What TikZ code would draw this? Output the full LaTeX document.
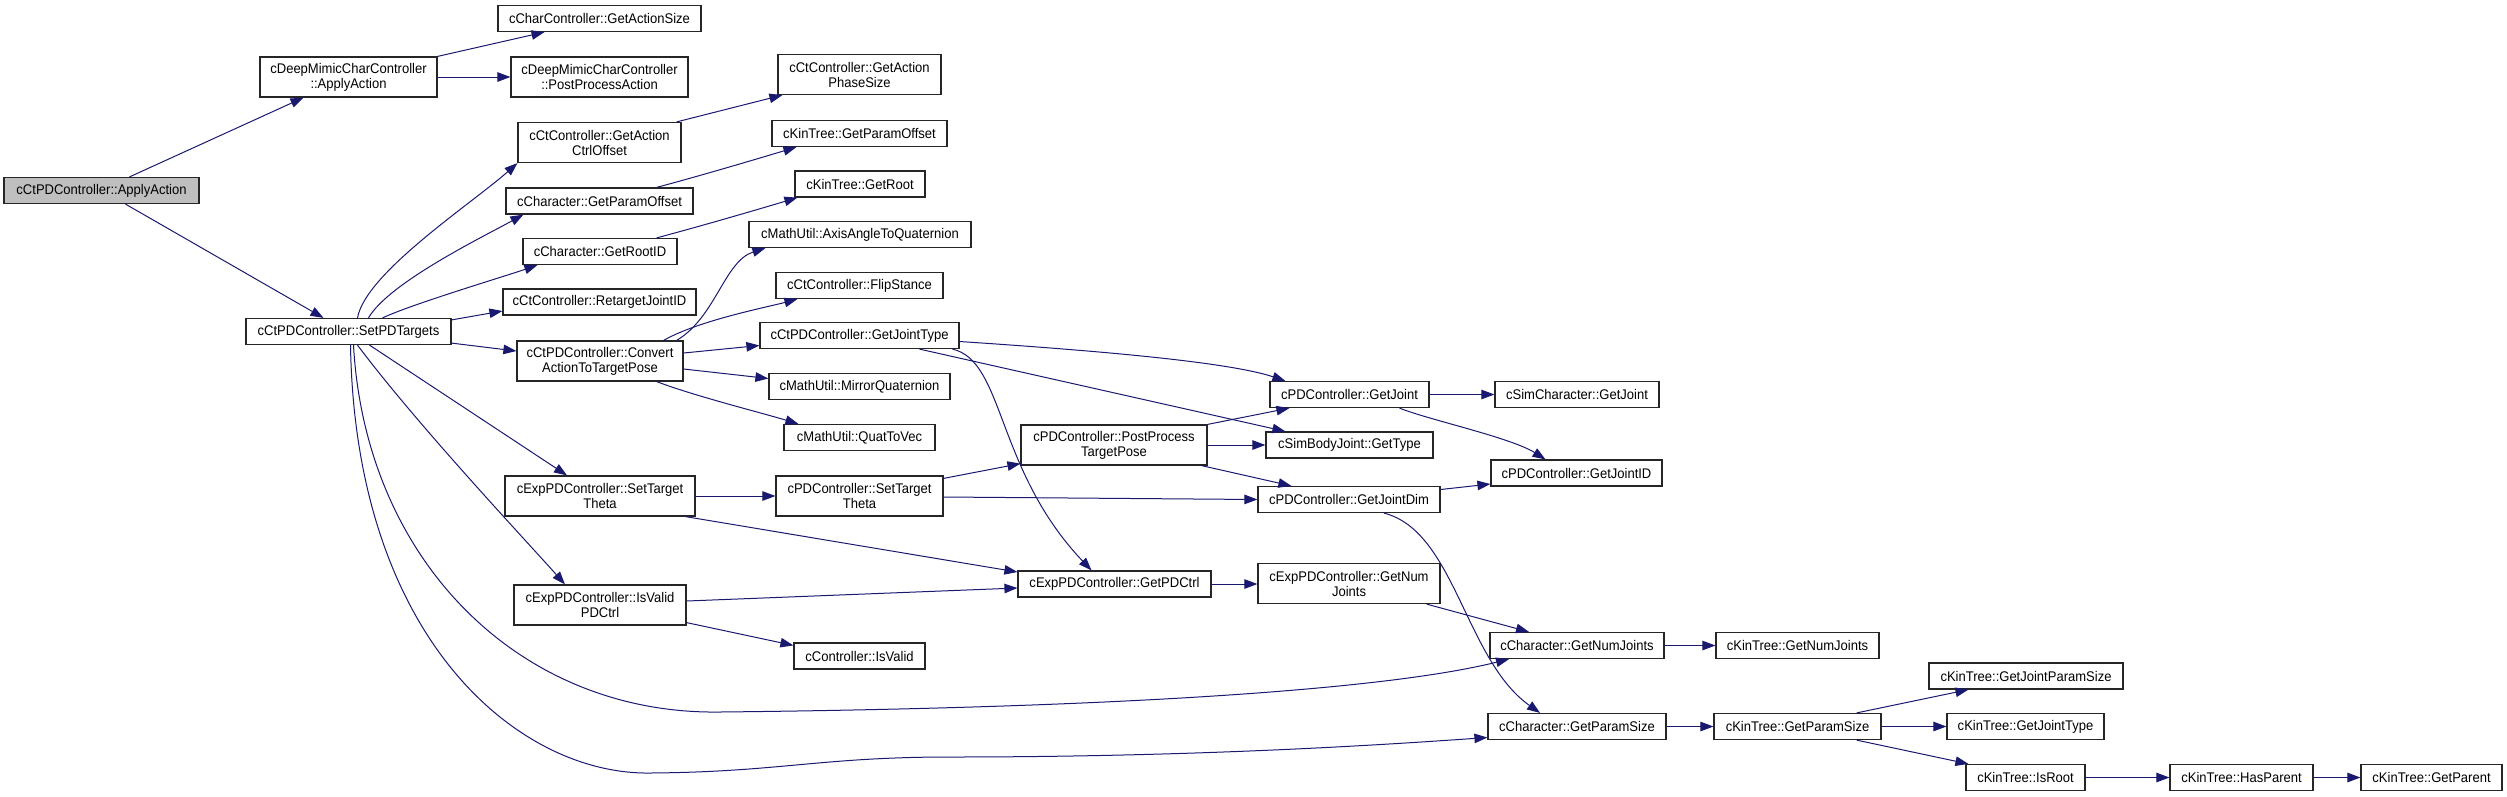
\documentclass[tikz,border=0pt]{standalone}
\usepackage{fontspec}
\setmainfont{Liberation Sans}[FakeStretch=0.93]
\usetikzlibrary{arrows.meta}
\definecolor{edgeblue}{HTML}{191970}
\definecolor{rootgray}{HTML}{BFBFBF}

\begin{document}
\begin{tikzpicture}[x=1pt, y=-1pt,
    fn/.style={draw=black!85, line width=1.2pt, inner sep=0pt, minimum height=26pt, align=center, font=\fontsize{14}{15}\selectfont},
    fn2/.style={fn, minimum height=40pt},
    call/.style={-{Triangle[length=13pt, width=9.5pt]}, draw=edgeblue, line width=1pt}
]
\useasboundingbox (0,0) rectangle (2507,796);

% Root
\node (root) at (101.5,190.5) [fn, fill=rootgray, minimum width=195pt] {cCtPDController::ApplyAction};

% Level 1
\node (dmApply) at (348.5,77) [fn2, minimum width=177pt] {cDeepMimicCharController\\::ApplyAction};
\node (setPD) at (348.5,331.5) [fn, minimum width=205pt] {cCtPDController::SetPDTargets};

% Level 2
\node (getActSize) at (599.5,18.5) [fn, minimum width=203pt] {cCharController::GetActionSize};
\node (postProc) at (599.5,77) [fn2, minimum width=177pt] {cDeepMimicCharController\\::PostProcessAction};
\node (ctrlOff) at (599.5,142.5) [fn2, minimum width=163pt] {cCtController::GetAction\\CtrlOffset};
\node (chParamOff) at (599.5,201) [fn, minimum width=187pt] {cCharacter::GetParamOffset};
\node (chRootID) at (600,251.5) [fn, minimum width=154pt] {cCharacter::GetRootID};
\node (retarget) at (599.5,302) [fn, minimum width=193pt] {cCtController::RetargetJointID};
\node (convert) at (600,361) [fn2, minimum width=166pt] {cCtPDController::Convert\\ActionToTargetPose};
\node (expSetTheta) at (600,496) [fn2, minimum width=190pt] {cExpPDController::SetTarget\\Theta};
\node (isValidPD) at (600,605) [fn2, minimum width=172pt] {cExpPDController::IsValid\\PDCtrl};

% Level 3
\node (phaseSize) at (859.5,74.5) [fn2, minimum width=163pt] {cCtController::GetAction\\PhaseSize};
\node (ktParamOff) at (859.5,133.5) [fn, minimum width=175pt] {cKinTree::GetParamOffset};
\node (ktRoot) at (860,184) [fn, minimum width=130pt] {cKinTree::GetRoot};
\node (axisAngle) at (860,234.5) [fn, minimum width=222pt] {cMathUtil::AxisAngleToQuaternion};
\node (flip) at (859.5,285.5) [fn, minimum width=167pt] {cCtController::FlipStance};
\node (ctpdJointType) at (859.5,335.5) [fn, minimum width=199pt] {cCtPDController::GetJointType};
\node (mirror) at (859.5,386.5) [fn, minimum width=181pt] {cMathUtil::MirrorQuaternion};
\node (quatToVec) at (859.5,437.5) [fn, minimum width=151pt] {cMathUtil::QuatToVec};
\node (pdSetTheta) at (859.5,496) [fn2, minimum width=167pt] {cPDController::SetTarget\\Theta};
\node (isValid) at (859.5,656) [fn, minimum width=131pt] {cController::IsValid};

% Level 4
\node (postTarget) at (1114,445) [fn2, minimum width=186pt] {cPDController::PostProcess\\TargetPose};
\node (getPDCtrl) at (1114.5,584) [fn, minimum width=193pt] {cExpPDController::GetPDCtrl};

% Level 5
\node (pdGetJoint) at (1349.5,394.5) [fn, minimum width=159pt] {cPDController::GetJoint};
\node (simBodyType) at (1349.5,445) [fn, minimum width=167pt] {cSimBodyJoint::GetType};
\node (jointDim) at (1349,499.5) [fn, minimum width=182pt] {cPDController::GetJointDim};
\node (expNumJoints) at (1349,583.5) [fn2, minimum width=182pt] {cExpPDController::GetNum\\Joints};

% Level 6
\node (simGetJoint) at (1577,394.5) [fn, minimum width=164pt] {cSimCharacter::GetJoint};
\node (jointID) at (1576.5,473) [fn, minimum width=171pt] {cPDController::GetJointID};
\node (chNumJoints) at (1577,645.5) [fn, minimum width=174pt] {cCharacter::GetNumJoints};
\node (chParamSize) at (1577,726.5) [fn, minimum width=178pt] {cCharacter::GetParamSize};

% Level 7 and beyond
\node (ktNumJoints) at (1797.5,645.5) [fn, minimum width=163pt] {cKinTree::GetNumJoints};
\node (ktParamSize) at (1797.5,726.5) [fn, minimum width=167pt] {cKinTree::GetParamSize};
\node (ktJointParamSize) at (2026,676) [fn, minimum width=194pt] {cKinTree::GetJointParamSize};
\node (ktJointType) at (2025.5,726.5) [fn, minimum width=157pt] {cKinTree::GetJointType};
\node (isRoot) at (2025.5,777.5) [fn, minimum width=119pt] {cKinTree::IsRoot};
\node (hasParent) at (2241.5,777.5) [fn, minimum width=143pt] {cKinTree::HasParent};
\node (getParent) at (2431.5,777.5) [fn, minimum width=141pt] {cKinTree::GetParent};

% Calls from the root
\draw[call] ([xshift=28pt]root.north) -- ([xshift=-45pt]dmApply.south);
\draw[call] ([xshift=24pt]root.south) -- ([xshift=-25pt]setPD.north);

% Calls from ApplyAction
\draw[call] (dmApply.north east) -- ([xshift=-55pt]getActSize.south);
\draw[call] (dmApply) -- (postProc);

% Calls from SetPDTargets
\draw[call] ([xshift=9pt]setPD.north) .. controls +(8,-45) and +(-45,40) .. (ctrlOff.south west);
\draw[call] ([xshift=20pt]setPD.north) .. controls +(20,-35) and +(-40,22) .. ([xshift=18pt]chParamOff.south west);
\draw[call] ([xshift=34pt]setPD.north) .. controls +(30,-14) and +(-35,12) .. ([xshift=15pt]chRootID.south west);
\draw[call] ([yshift=-2pt]setPD.north east) -- ([yshift=-9pt]retarget.west);
\draw[call] ([yshift=2pt]setPD.south east) -- ([yshift=10pt]convert.west);
\draw[call] ([xshift=21pt]setPD.south) -- ([xshift=-33pt]expSetTheta.north);
\draw[call] ([xshift=9pt]setPD.south) .. controls +(60,80) and +(-40,-45) .. ([xshift=-35pt]isValidPD.north);
\draw[call] ([xshift=5pt]setPD.south) .. controls +(12,216) and +(-200,3) .. (720,712)
    .. controls +(380,-4) and +(-129,32) .. ([xshift=-68pt]chNumJoints.south);
\draw[call] ([xshift=2pt]setPD.south) .. controls +(5,296) and +(-130,2) .. (650,773)
    .. controls +(130,-1) and +(-130,0) .. (950,757)
    .. controls +(250,0) and +(-100,7) .. ([yshift=-11pt]chParamSize.west);

% Second level calls
\draw[call] ([xshift=-5pt]ctrlOff.north east) -- ([xshift=5pt]phaseSize.south west);
\draw[call] ([xshift=-37pt]chParamOff.north east) .. controls +(45,-12) and +(-40,12) .. ([xshift=25pt]ktParamOff.south west);
\draw[call] ([xshift=-21pt]chRootID.north east) .. controls +(45,-12) and +(-40,12) .. ([xshift=3pt]ktRoot.south west);
\draw[call] ([xshift=-7pt]convert.north east) .. controls +(39,-23) and +(-41,13) .. ([xshift=17pt]axisAngle.south west);
\draw[call] ([xshift=-20pt]convert.north east) .. controls +(35,-20) and +(-30,8) .. ([xshift=22pt]flip.south west);
\draw[call] ([yshift=8pt]convert.east) -- ([yshift=-10pt]ctpdJointType.west);
\draw[call] ([yshift=-8pt]convert.east) -- ([yshift=8pt]mirror.west);
\draw[call] ([xshift=-27pt]convert.south east) .. controls +(40,15) and +(-40,-12) .. ([xshift=15pt]quatToVec.north west);
\draw[call] (expSetTheta) -- (pdSetTheta);
\draw[call] ([xshift=-10pt]expSetTheta.south east) -- ([yshift=12pt]getPDCtrl.west);
\draw[call] ([yshift=4pt]isValidPD.east) -- ([yshift=-4pt]getPDCtrl.west);
\draw[call] ([yshift=3pt]isValidPD.south east) -- ([yshift=-3pt]isValid.north west);

% Third level calls
\draw[call] ([yshift=-6pt]ctpdJointType.east) .. controls +(120,8) and +(-60,-20) .. ([xshift=16pt]pdGetJoint.north west);
\draw[call] ([xshift=60pt]ctpdJointType.south) -- ([xshift=20pt]simBodyType.north west);
\draw[call] ([xshift=93pt]ctpdJointType.south) .. controls +(52,12) and +(-96,-101) .. ([xshift=-23pt]getPDCtrl.north);
\draw[call] ([yshift=-3pt]pdSetTheta.north east) -- ([yshift=2pt]postTarget.south west);
\draw[call] ([yshift=-1pt]pdSetTheta.east) -- (jointDim.west);

% Fourth level calls
\draw[call] (postTarget.north east) -- ([xshift=20pt]pdGetJoint.south west);
\draw[call] (postTarget) -- (simBodyType);
\draw[call] ([xshift=-6pt]postTarget.south east) -- ([xshift=34pt]jointDim.north west);
\draw[call] (getPDCtrl.east) -- (getPDCtrl.east -| expNumJoints.west);

% Fifth level calls
\draw[call] (pdGetJoint) -- (simGetJoint);
\draw[call] ([xshift=50pt]pdGetJoint.south) .. controls +(30,12) and +(-35,-22) .. ([xshift=-31pt]jointID.north);
\draw[call] ([yshift=10pt]jointDim.east) -- ([yshift=-11pt]jointID.west);
\draw[call] ([xshift=35pt]jointDim.south) .. controls +(71,18) and +(-75,-53) .. ([xshift=-37pt]chParamSize.north);
\draw[call] ([xshift=-14pt]expNumJoints.south east) -- ([xshift=-48pt]chNumJoints.north);

% KinTree calls
\draw[call] (chNumJoints) -- (ktNumJoints);
\draw[call] (chParamSize) -- (ktParamSize);
\draw[call] ([xshift=-25pt]ktParamSize.north east) -- ([xshift=40pt]ktJointParamSize.south west);
\draw[call] (ktParamSize) -- (ktJointType);
\draw[call] ([xshift=-25pt]ktParamSize.south east) -- ([xshift=3pt]isRoot.north west);
\draw[call] (isRoot) -- (hasParent);
\draw[call] (hasParent) -- (getParent);

\end{tikzpicture}
\end{document}
